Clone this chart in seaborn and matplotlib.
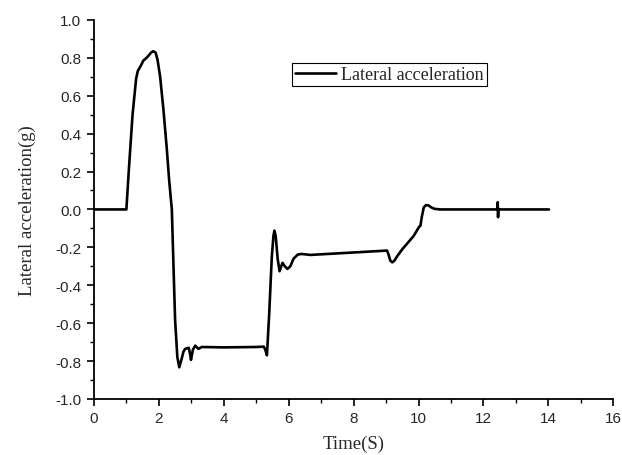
import seaborn as sns
import matplotlib.pyplot as plt
from matplotlib.ticker import MultipleLocator
import pandas as pd

# Valores (tempo em s, aceleração lateral em g)
tempo = [0.0, 1.0, 1.08, 1.19, 1.30, 1.35, 1.45, 1.52, 1.62, 1.70, 1.76, 1.83, 1.90, 1.96,
         2.04, 2.14, 2.24, 2.32, 2.40,
         2.50, 2.57, 2.63, 2.70, 2.76, 2.81, 2.92, 2.96, 2.99, 3.05, 3.12, 3.22, 3.32, 4.0,
         5.0, 5.23, 5.28, 5.33, 5.40, 5.48, 5.53, 5.56, 5.60, 5.66, 5.72, 5.77, 5.81, 5.88,
         5.96, 6.05, 6.15, 6.28, 6.40, 6.67, 7.5, 9.03, 9.08, 9.13, 9.19, 9.25, 9.35,
         9.50, 9.65, 9.85, 10.01, 10.06, 10.10, 10.16, 10.22, 10.30, 10.40, 10.50, 10.68,
         12.42, 12.44, 12.45, 12.46, 12.48, 14.02]
acel = [0.0, 0.0, 0.22, 0.50, 0.69, 0.73, 0.76, 0.785, 0.80, 0.815, 0.828, 0.835, 0.828, 0.79,
        0.70, 0.53, 0.33, 0.15, 0.0,
        -0.58, -0.78, -0.833, -0.79, -0.75, -0.736, -0.73, -0.76, -0.794, -0.74, -0.719, -0.736, -0.726, -0.728,
        -0.726, -0.724, -0.74, -0.77, -0.55, -0.25, -0.14, -0.112, -0.14, -0.26, -0.326, -0.30, -0.282, -0.30,
        -0.314, -0.30, -0.26, -0.238, -0.235, -0.24, -0.232, -0.217, -0.24, -0.27, -0.279, -0.272, -0.245,
        -0.21, -0.18, -0.14, -0.094, -0.085, -0.04, 0.01, 0.022, 0.022, 0.01, 0.003, 0.0,
        0.0, 0.038, -0.041, 0.0, 0.0, 0.0]

dados = pd.DataFrame({'Time': tempo, 'Lateral acceleration': acel})

sns.set_style('ticks')
plt.rcParams['axes.unicode_minus'] = False

fig = plt.figure(figsize=(6.22, 4.56), dpi=100)
ax = fig.add_axes([0.151, 0.123, 0.835, 0.831])

sns.lineplot(data=dados, x='Time', y='Lateral acceleration', color='black',
             linewidth=1.9, label='Lateral acceleration', ax=ax)

ax.set_xlim(0, 16)
ax.set_ylim(-1.0, 1.0)
ax.xaxis.set_major_locator(MultipleLocator(2))
ax.xaxis.set_minor_locator(MultipleLocator(1))
ax.yaxis.set_minor_locator(MultipleLocator(0.1))
ax.set_yticks([-1.0, -0.8, -0.6, -0.4, -0.2, 0.0, 0.2, 0.4, 0.6, 0.8, 1.0])
ax.set_yticklabels([f'{v:.1f}' for v in ax.get_yticks()])

for lab in ax.get_xticklabels() + ax.get_yticklabels():
    lab.set_fontfamily('Liberation Sans')
    lab.set_fontsize(11)

ax.tick_params(which='major', direction='out', length=5, width=1.2, color='black', pad=4)
ax.tick_params(which='minor', direction='out', length=3, width=1.0, color='black')

for s in ['left', 'bottom']:
    ax.spines[s].set_linewidth(1.3)
    ax.spines[s].set_color('black')
sns.despine(ax=ax)

ax.set_xlabel('Time(S)', fontfamily='Liberation Serif', fontsize=13.5, labelpad=7)
ax.set_ylabel('Lateral acceleration(g)', fontfamily='Liberation Serif', fontsize=13.5, labelpad=14)

leg = ax.legend(loc='upper left', bbox_to_anchor=(0.381, 0.886), frameon=True,
                fancybox=False, edgecolor='black', framealpha=1, handlelength=2.3,
                borderpad=0.15, borderaxespad=0, handletextpad=0.3,
                prop={'family': 'Liberation Serif', 'size': 13})
leg.get_frame().set_linewidth(0.8)

fig.savefig('out.png', dpi=100)
